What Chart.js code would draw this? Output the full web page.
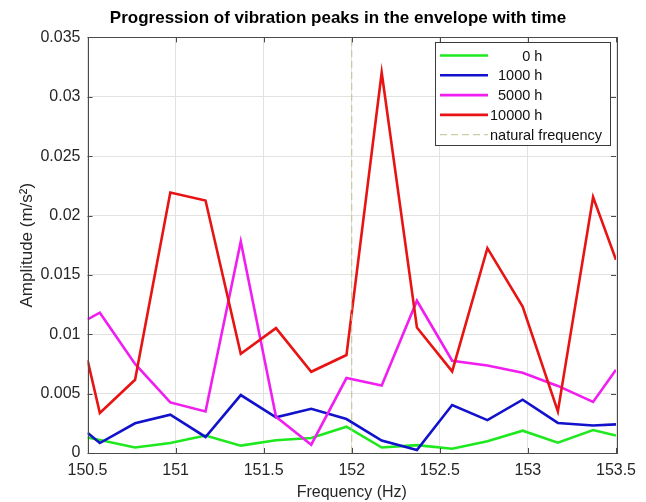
<!DOCTYPE html>
<html>
<head>
<meta charset="utf-8">
<script src="https://cdn.jsdelivr.net/npm/chart.js@4/dist/chart.umd.min.js"></script>
<style>
  body { margin: 0; background: #fff; }
  #chart { display: block; }
</style>
</head>
<body>
<canvas id="chart" width="646" height="502"></canvas>
<script>
// frequency points (Hz) and envelope peak amplitudes (m/s^2)
const freqHz = [150.5, 150.57, 150.77, 150.97, 151.17, 151.37, 151.57, 151.77, 151.97,
  152.17, 152.37, 152.57, 152.77, 152.97, 153.17, 153.37, 153.5];
const amp0h = [0.0013, 0.0011, 0.00047, 0.00084, 0.00147, 0.00062, 0.00108, 0.00126, 0.00222,
  0.00046, 0.00066, 0.00036, 0.00098, 0.00188, 0.00087, 0.00193, 0.00147];
const amp1000h = [0.0017, 0.00084, 0.0025, 0.00322, 0.00135, 0.00488, 0.003, 0.00372, 0.00286,
  0.00105, 0.00025, 0.00404, 0.00277, 0.00449, 0.00253, 0.00232, 0.00241];
const amp5000h = [0.01125, 0.01182, 0.0075, 0.00426, 0.0035, 0.01781, 0.00305, 0.0007, 0.00631,
  0.00569, 0.01282, 0.00777, 0.00737, 0.00676, 0.00565, 0.0043, 0.007];
const amp10000h = [0.00785, 0.00337, 0.00617, 0.02194, 0.02126, 0.00836, 0.01052, 0.00684, 0.00825,
  0.03204, 0.01057, 0.00687, 0.01725, 0.01234, 0.0035, 0.02155, 0.01627];
const naturalFreq = 152;

const seriesLabels = ["        0 h", "  1000 h", "  5000 h", "10000 h", "natural frequency"];
const xTickLabels = ["150.5", "151", "151.5", "152", "152.5", "153", "153.5"];
const yTickLabels = ["0", "0.005", "0.01", "0.015", "0.02", "0.025", "0.03", "0.035"];

const toPoints = (ys) => freqHz.map((f, i) => ({ x: f, y: ys[i] }));
const FONT = "'Liberation Sans', Arial, sans-serif";

// matlab centres the title a bit right of the canvas middle
const titleShift = {
  id: "titleShift",
  afterLayout(chart) {
    if (chart.titleBlock) chart.titleBlock.left = 60;
  },
};

// box round the axes, with inward ticks like matlab
const boxPlugin = {
  id: "box",
  afterDatasetsDraw(chart) {
    const { ctx, chartArea: a, scales } = chart;
    ctx.save();
    ctx.strokeStyle = "#4a4a4a";
    ctx.lineWidth = 1;
    ctx.beginPath();
    scales.x.ticks.forEach((t) => {
      const px = Math.round(scales.x.getPixelForValue(t.value)) + 0.5;
      ctx.moveTo(px, a.bottom); ctx.lineTo(px, a.bottom - 5);
      ctx.moveTo(px, a.top); ctx.lineTo(px, a.top + 5);
    });
    scales.y.ticks.forEach((t) => {
      const py = Math.round(scales.y.getPixelForValue(t.value)) + 0.5;
      ctx.moveTo(a.left, py); ctx.lineTo(a.left + 5, py);
      ctx.moveTo(a.right, py); ctx.lineTo(a.right - 5, py);
    });
    ctx.stroke();
    ctx.strokeRect(Math.round(a.left) + 0.5, Math.round(a.top) + 0.5,
      Math.round(a.right - a.left), Math.round(a.bottom - a.top));
    ctx.restore();
  },
};

// legend box in the top right corner
const legendPlugin = {
  id: "boxLegend",
  afterDraw(chart) {
    const { ctx } = chart;
    const sets = chart.data.datasets;
    const left = 435, top = 42, w = 175, rowH = 19.8;
    const h = sets.length * rowH + 4;
    ctx.save();
    ctx.fillStyle = "#fff";
    ctx.fillRect(left, top, w, h);
    ctx.strokeStyle = "#3a3a3a";
    ctx.lineWidth = 1;
    ctx.strokeRect(left + 0.5, top + 0.5, w, h);
    ctx.font = "14.5px " + FONT;
    ctx.textBaseline = "middle";
    ctx.textAlign = "left";
    sets.forEach((ds, i) => {
      const y = top + 13.5 + i * rowH;
      ctx.strokeStyle = ds.borderColor;
      ctx.lineWidth = ds.borderWidth;
      ctx.setLineDash(ds.borderDash || []);
      ctx.beginPath();
      ctx.moveTo(left + 5, y);
      ctx.lineTo(left + 53, y);
      ctx.stroke();
      ctx.setLineDash([]);
      ctx.fillStyle = "#111";
      ctx.fillText(ds.label, left + 55, y + 1);
    });
    ctx.restore();
  },
};

const ctx = document.getElementById("chart").getContext("2d");
new Chart(ctx, {
  type: "line",
  data: {
    datasets: [
      { label: seriesLabels[0], data: toPoints(amp0h), borderColor: "rgb(30,232,30)", order: 5 },
      { label: seriesLabels[1], data: toPoints(amp1000h), borderColor: "rgb(18,18,205)", order: 4 },
      { label: seriesLabels[2], data: toPoints(amp5000h), borderColor: "rgb(240,30,240)", order: 3 },
      { label: seriesLabels[3], data: toPoints(amp10000h), borderColor: "rgb(232,20,20)", order: 2 },
      {
        label: seriesLabels[4],
        data: [{ x: naturalFreq, y: 0 }, { x: naturalFreq, y: 0.035 }],
        borderColor: "rgb(185,196,140)",
        borderWidth: 1,
        borderDash: [7, 4],
        order: 1,
      },
    ].map((d) => Object.assign({ borderWidth: 2.6, pointRadius: 0, tension: 0, fill: false }, d)),
  },
  options: {
    responsive: false,
    animation: false,
    layout: { padding: { left: 0, right: 30, top: 0, bottom: 0 } },
    plugins: {
      legend: { display: false },
      tooltip: { enabled: false },
      title: {
        display: true,
        text: "Progression of vibration peaks in the envelope with time",
        color: "#000",
        font: { family: FONT, size: 17, weight: "bold" },
        padding: { top: 8, bottom: 9 },
      },
    },
    scales: {
      x: {
        type: "linear",
        min: 150.5,
        max: 153.5,
        afterFit: (scale) => { scale.height = 49; },
        ticks: {
          stepSize: 0.5,
          padding: 8,
          color: "#262626",
          font: { family: FONT, size: 16 },
          callback: (v, i) => xTickLabels[i],
        },
        grid: { color: "rgb(226,226,226)", drawTicks: false },
        border: { display: false },
        title: {
          display: true,
          text: "Frequency (Hz)",
          color: "#262626",
          font: { family: FONT, size: 16 },
          padding: { top: 0, bottom: 0 },
        },
      },
      y: {
        min: 0,
        max: 0.035,
        afterFit: (scale) => { scale.width = 87.5; },
        ticks: {
          stepSize: 0.005,
          padding: 7,
          color: "#262626",
          font: { family: FONT, size: 16 },
          callback: (v, i) => yTickLabels[i],
        },
        grid: { color: "rgb(226,226,226)", drawTicks: false },
        border: { display: false },
        title: {
          display: true,
          text: "Amplitude (m/s²)",
          color: "#262626",
          font: { family: FONT, size: 17 },
          padding: { top: 17, bottom: 0 },
        },
      },
    },
  },
  plugins: [titleShift, boxPlugin, legendPlugin],
});
</script>
</body>
</html>
